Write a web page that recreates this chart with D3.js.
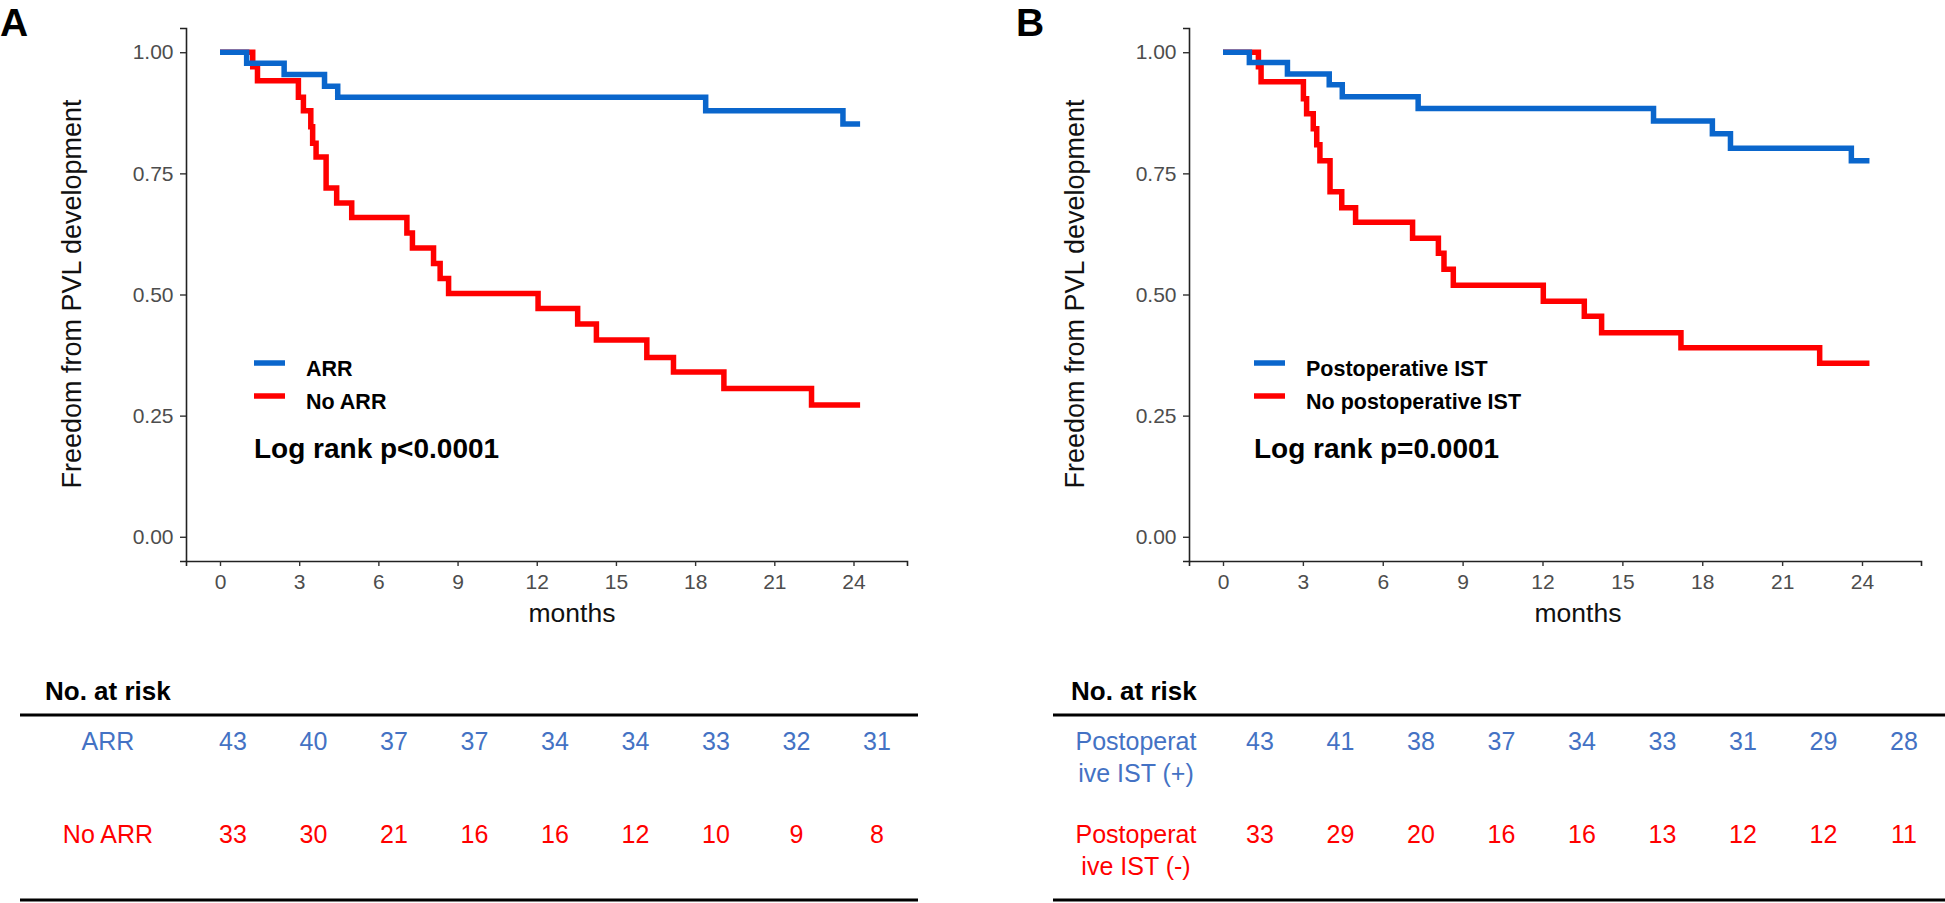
<!DOCTYPE html>
<html><head><meta charset="utf-8">
<script src="https://cdn.jsdelivr.net/npm/d3@7"></script>
<style>
body{margin:0;background:#fff}
svg{display:block}
text{font-family:"Liberation Sans",Arial,Helvetica,sans-serif}
</style>
</head><body><svg id="chart" width="1945" height="903"></svg>
<script>
// ---------- data ----------
const monthTicks = [0, 3, 6, 9, 12, 15, 18, 21, 24];
const survTicks = [0, 0.25, 0.5, 0.75, 1];
const riskTimes = [0, 3, 6, 9, 12, 15, 18, 21, 24];

// Panel A
const aArrTime = [0, 1.01, 2.43, 3.96, 4.46, 18.4, 23.6];
const aArrSurv = [1, 0.977, 0.954, 0.930, 0.907, 0.879, 0.852];
const aArrEnd = 24.25;
const aNoArrTime = [0, 1.24, 1.42, 2.97, 3.16, 3.44, 3.51, 3.64, 4.02, 4.42, 4.99, 7.08, 7.29, 8.09, 8.34, 8.66, 12.05, 13.55, 14.26, 16.17, 17.18, 19.09, 22.41];
const aNoArrSurv = [1, 0.970, 0.941, 0.907, 0.879, 0.846, 0.812, 0.784, 0.720, 0.689, 0.659, 0.627, 0.596, 0.564, 0.533, 0.502, 0.471, 0.439, 0.406, 0.370, 0.340, 0.306, 0.272];
const aNoArrEnd = 24.25;
const aRiskArr = [43, 40, 37, 37, 34, 34, 33, 32, 31];
const aRiskNoArr = [33, 30, 21, 16, 16, 12, 10, 9, 8];

// Panel B
const bIstTime = [0, 0.99, 2.42, 3.99, 4.48, 7.33, 16.17, 18.38, 19.06, 23.6];
const bIstSurv = [1, 0.979, 0.955, 0.933, 0.908, 0.884, 0.858, 0.832, 0.802, 0.776];
const bIstEnd = 24.28;
const bNoIstTime = [0, 1.33, 1.43, 3.02, 3.14, 3.39, 3.52, 3.64, 4.02, 4.46, 4.98, 7.12, 8.09, 8.30, 8.65, 12.03, 13.57, 14.22, 17.2, 22.41];
const bNoIstSurv = [1, 0.970, 0.939, 0.904, 0.873, 0.842, 0.809, 0.776, 0.712, 0.679, 0.649, 0.616, 0.585, 0.552, 0.519, 0.486, 0.455, 0.421, 0.390, 0.358];
const bNoIstEnd = 24.28;
const bRiskPos = [43, 41, 38, 37, 34, 33, 31, 29, 28];
const bRiskNeg = [33, 29, 20, 16, 16, 13, 12, 12, 11];

// ---------- style ----------
const BLUE = "#0a66cc";
const RED = "#ff0000";
const TBLUE = "#4472c4";
const FONT = '"Liberation Sans",Arial,Helvetica,sans-serif';

const svg = d3.select("#chart");

function panel(cfg) {
  const g = svg.append("g");
  const x0 = d3.scaleLinear().domain([0, 24]).range([cfg.m0, cfg.m24]);
  const x = d3.scaleLinear().domain([x0.invert(cfg.axL), x0.invert(cfg.axR)]).range([cfg.axL, cfg.axR]);
  const y = d3.scaleLinear().domain([-0.05, 1.05]).range([561, 28]);

  const xa = g.append("g").attr("transform", "translate(0,561)")
    .call(d3.axisBottom(x).tickValues(monthTicks).tickSizeOuter(0).tickSize(5).tickPadding(8.5));
  const ya = g.append("g").attr("transform", `translate(${cfg.axL},0)`)
    .call(d3.axisLeft(y).tickValues(survTicks).tickFormat(d3.format(".2f")).tickSizeOuter(0).tickSize(6).tickPadding(6.5));
  [xa, ya].forEach(a => {
    a.select(".domain").attr("stroke", "#222").attr("stroke-width", 1.6);
    a.selectAll(".tick line").attr("stroke", "#333").attr("stroke-width", 1.4);
    a.selectAll(".tick text").attr("fill", "#4d4d4d").style("font-size", "21px").style("font-family", FONT);
  });

  g.append("text").attr("x", cfg.monthsX).attr("y", 622).attr("text-anchor", "middle")
    .style("font-size", "26.5px").attr("fill", "#111").text("months");
  g.append("text").attr("transform", `translate(${cfg.axL - 105},294) rotate(-90)`)
    .attr("text-anchor", "middle").style("font-size", "27px").attr("fill", "#111")
    .text("Freedom from PVL development");

  const line = d3.line().x(d => x(d[0])).y(d => y(d[1])).curve(d3.curveStepAfter);
  cfg.series.slice().reverse().forEach(s => {
    const pts = s.time.map((t, i) => [t, s.surv[i]]);
    pts.push([s.end, s.surv[s.surv.length - 1]]);
    g.append("path").datum(pts).attr("d", line)
      .attr("fill", "none").attr("stroke", s.color).attr("stroke-width", 5.5)
      .attr("stroke-linejoin", "miter");
  });

  cfg.series.forEach((s, i) => {
    const ly = 363 + i * 33;
    g.append("line").attr("x1", cfg.legX).attr("x2", cfg.legX + 31).attr("y1", ly).attr("y2", ly)
      .attr("stroke", s.color).attr("stroke-width", 5.5);
    g.append("text").attr("x", cfg.legX + 52).attr("y", ly + 13).style("font-size", "21.5px")
      .style("font-weight", "bold").attr("fill", "#000").text(s.label);
  });
  g.append("text").attr("x", cfg.legX).attr("y", 458).style("font-size", "28px")
    .style("font-weight", "bold").attr("fill", "#000").text(cfg.pText);

  g.append("text").attr("x", cfg.letterX).attr("y", 36).style("font-size", "39px")
    .style("font-weight", "bold").attr("fill", "#000").text(cfg.letter);

  g.append("text").attr("x", cfg.riskTitleX).attr("y", 700).style("font-size", "26px")
    .style("font-weight", "bold").attr("fill", "#000").text("No. at risk");
  [715, 900].forEach(ly => g.append("line").attr("x1", cfg.tabL).attr("x2", cfg.tabR)
    .attr("y1", ly).attr("y2", ly).attr("stroke", "#000").attr("stroke-width", 3));
  const rx = d3.scaleLinear().domain([0, 24]).range([cfg.r0, cfg.r24]);
  cfg.risk.forEach((r, i) => {
    const by = 750 + i * 93;
    const lbl = g.append("text").attr("x", cfg.rowLabelX).attr("y", by).attr("text-anchor", "middle")
      .style("font-size", "25px").attr("fill", r.color);
    r.label.forEach((t, j) => lbl.append("tspan").attr("x", cfg.rowLabelX).attr("y", by + j * 32).text(t));
    g.selectAll(null).data(r.values).enter().append("text")
      .attr("x", (d, k) => rx(riskTimes[k])).attr("y", by).attr("text-anchor", "middle")
      .style("font-size", "25px").attr("fill", r.color).text(d => d);
  });
}

panel({
  letter: "A", letterX: 0,
  axL: 186, axR: 907, m0: 220, m24: 853.5, monthsX: 572,
  legX: 254, pText: "Log rank p<0.0001",
  series: [
    {label: "ARR", color: BLUE, time: aArrTime, surv: aArrSurv, end: aArrEnd},
    {label: "No ARR", color: RED, time: aNoArrTime, surv: aNoArrSurv, end: aNoArrEnd}
  ],
  riskTitleX: 45, tabL: 20, tabR: 918, r0: 233, r24: 877, rowLabelX: 108,
  risk: [
    {label: ["ARR"], color: TBLUE, values: aRiskArr},
    {label: ["No ARR"], color: RED, values: aRiskNoArr}
  ]
});

panel({
  letter: "B", letterX: 1016,
  axL: 1189, axR: 1921, m0: 1223, m24: 1862, monthsX: 1578,
  legX: 1254, pText: "Log rank p=0.0001",
  series: [
    {label: "Postoperative IST", color: BLUE, time: bIstTime, surv: bIstSurv, end: bIstEnd},
    {label: "No postoperative IST", color: RED, time: bNoIstTime, surv: bNoIstSurv, end: bNoIstEnd}
  ],
  riskTitleX: 1071, tabL: 1053, tabR: 1945, r0: 1260, r24: 1904, rowLabelX: 1136,
  risk: [
    {label: ["Postoperat", "ive IST (+)"], color: TBLUE, values: bRiskPos},
    {label: ["Postoperat", "ive IST (-)"], color: RED, values: bRiskNeg}
  ]
});
</script>
</body></html>
